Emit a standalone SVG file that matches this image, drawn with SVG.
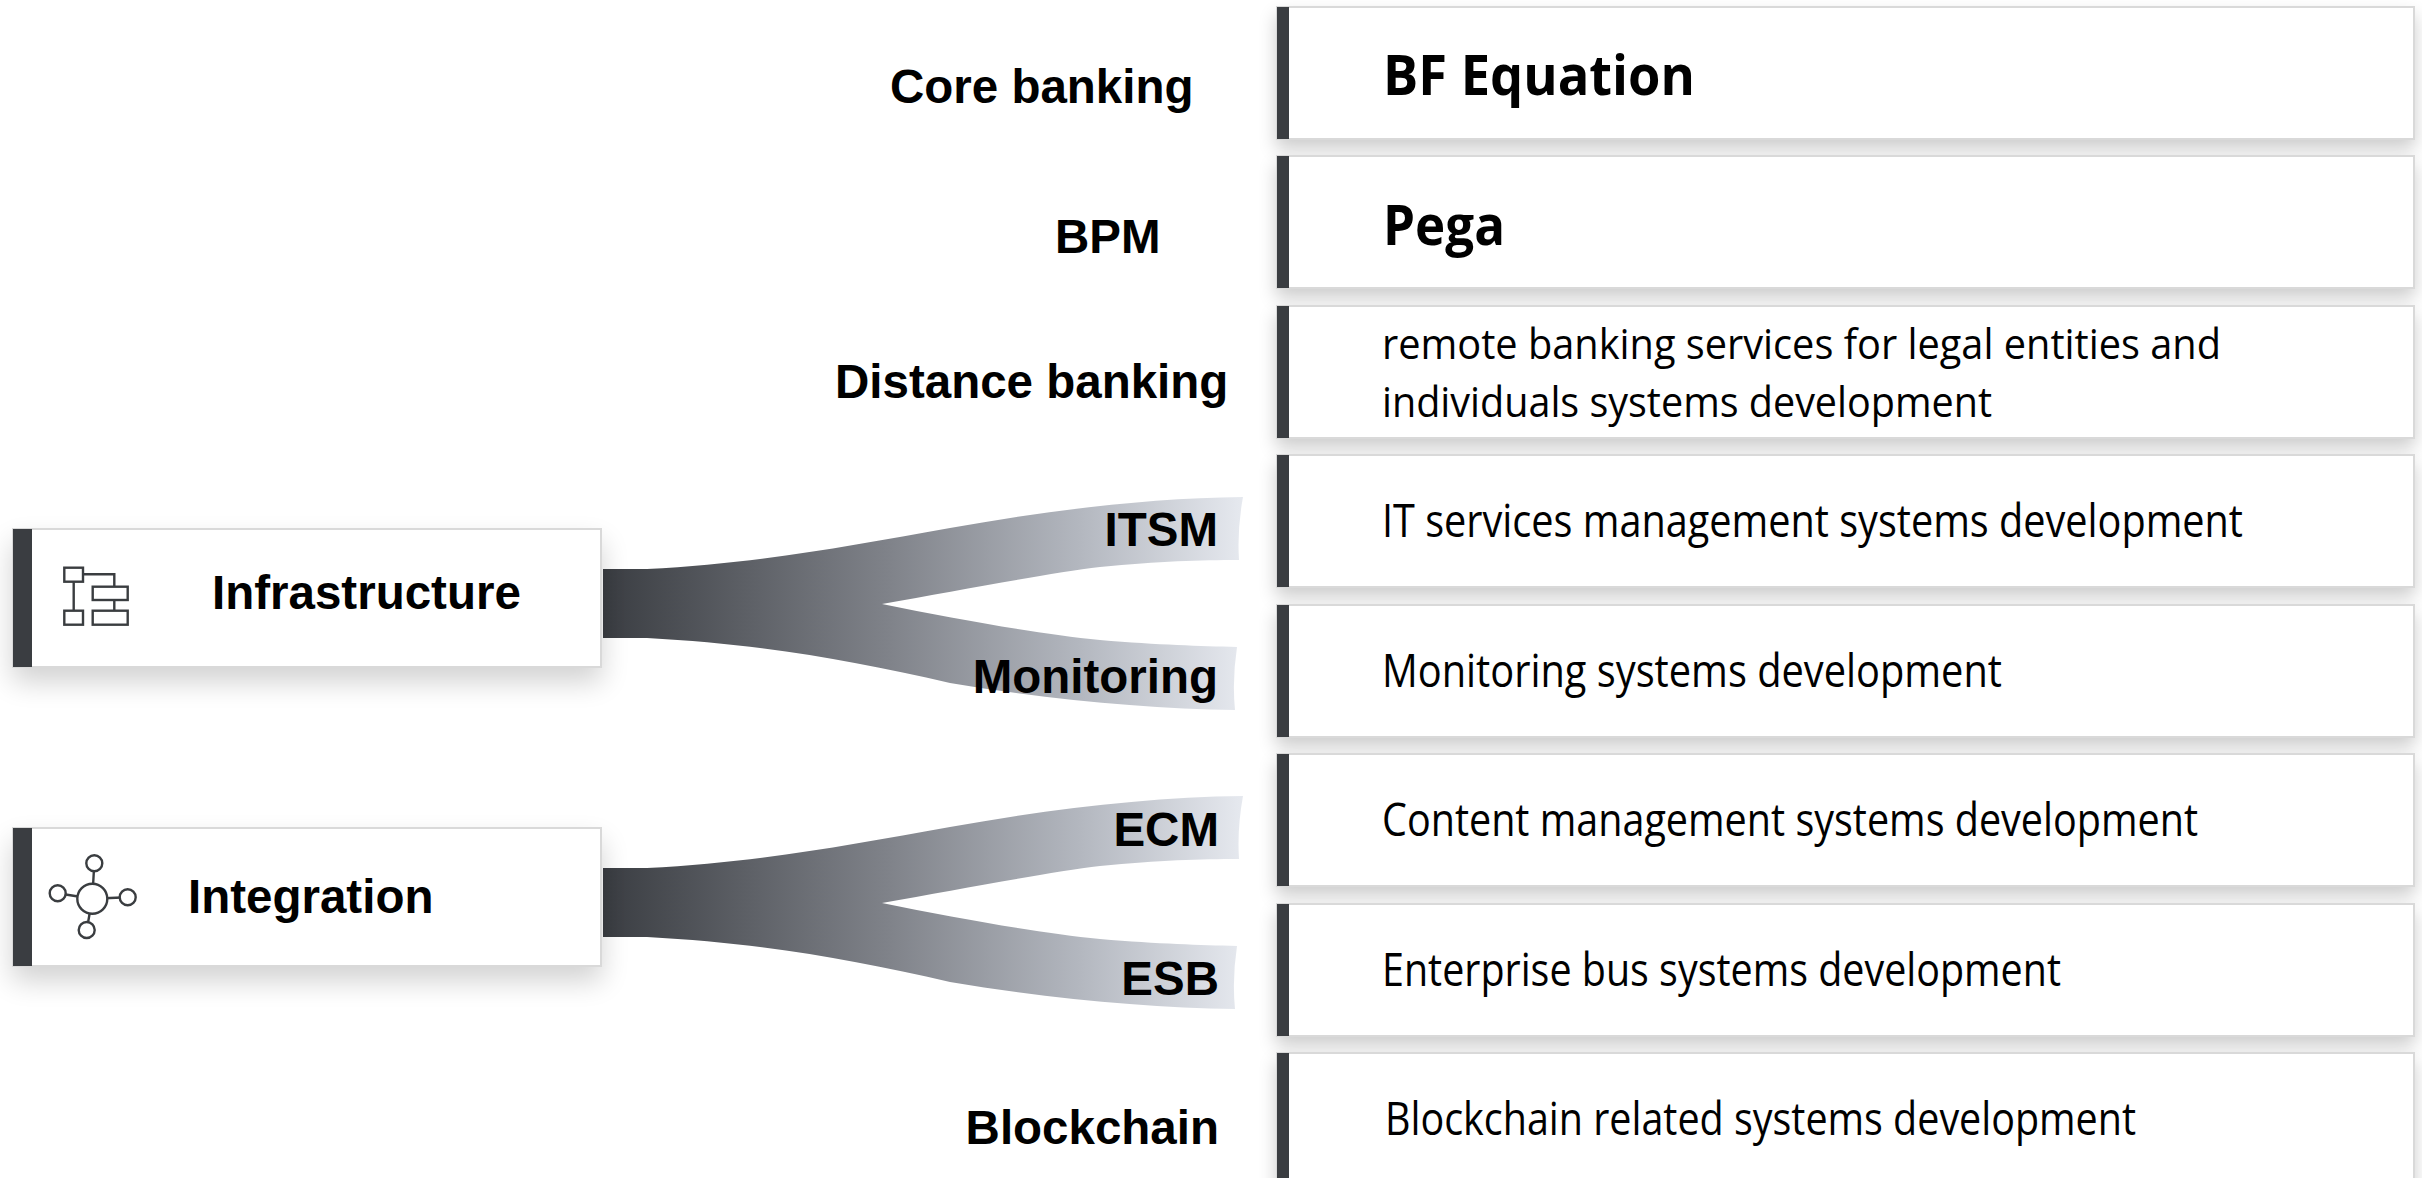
<svg xmlns="http://www.w3.org/2000/svg" width="2422" height="1178" viewBox="0 0 2422 1178">
<defs>
<style>
.box{fill:#ffffff;stroke:#d9d9d9;stroke-width:2}
.bar{fill:#3a3d41}
.lbl{font-family:"Liberation Sans",Arial,sans-serif;font-weight:bold;font-size:47.5px;fill:#000}
.head{font-family:"Open Sans","DejaVu Sans",sans-serif;font-weight:bold;font-size:55px;fill:#000}
.body{font-family:"Open Sans","DejaVu Sans",sans-serif;font-size:45px;fill:#000}
.body2{font-family:"Open Sans","DejaVu Sans",sans-serif;font-size:41.5px;fill:#000}
.ico{fill:#ffffff;stroke:#3a3d40;stroke-width:2.4}
.icl{fill:none;stroke:#3a3d40;stroke-width:2.4}
</style>
<filter id="sh" x="-10%" y="-40%" width="120%" height="190%">
<feGaussianBlur in="SourceAlpha" stdDeviation="9"/>
<feOffset dy="9" result="o"/>
<feComponentTransfer><feFuncA type="linear" slope="0.2"/></feComponentTransfer>
<feMerge><feMergeNode/><feMergeNode in="SourceGraphic"/></feMerge>
</filter>
<filter id="sh2" x="-15%" y="-50%" width="130%" height="220%">
<feGaussianBlur in="SourceAlpha" stdDeviation="14"/>
<feOffset dy="14" result="o"/>
<feComponentTransfer><feFuncA type="linear" slope="0.18"/></feComponentTransfer>
<feMerge><feMergeNode/><feMergeNode in="SourceGraphic"/></feMerge>
</filter>
<linearGradient id="rib" gradientUnits="userSpaceOnUse" x1="603" y1="0" x2="1243" y2="0">
<stop offset="0" stop-color="#3a3d42"/>
<stop offset="0.45" stop-color="#80838a"/>
<stop offset="0.75" stop-color="#b4b8c0"/>
<stop offset="1" stop-color="#e6e9ef"/>
</linearGradient>
<path id="ribbon" d="M603,569 L647,569 C760,563 850,546 950,528 C1050,510 1150,498 1243,497 Q1237,530 1239,560 C1200,560 1160,561 1100,567 C1050,573 960,590 882,604 C960,620 1040,634 1100,640 C1160,645 1200,646 1237,647 Q1232,680 1235,710 C1150,709 1050,700 950,683 C850,660 760,644 647,638 L603,638 Z"/>
</defs>
<rect x="0" y="0" width="2422" height="1178" fill="#ffffff"/>

<g id="connectors">
<use href="#ribbon" fill="url(#rib)"/>
<use href="#ribbon" fill="url(#rib)" transform="translate(0,299)"/>
</g>

<g id="infrastructure">
<rect class="box" x="13" y="529" width="588" height="138" filter="url(#sh2)"/>
<rect class="bar" x="13" y="529" width="19" height="138"/>
<path class="icl" d="M83,574.3 H114.3 V586.7 M114.3,600 V610.7 M73.7,581.7 V610.7"/>
<rect class="ico" x="64.3" y="567.7" width="18.7" height="14"/>
<rect class="ico" x="92.7" y="586.7" width="35" height="13.3"/>
<rect class="ico" x="92.7" y="610.7" width="35" height="14"/>
<rect class="ico" x="64.3" y="610.7" width="18.7" height="14"/>
<text class="lbl" x="212" y="609">Infrastructure</text>
</g>

<g id="integration">
<rect class="box" x="13" y="828" width="588" height="138" filter="url(#sh2)"/>
<rect class="bar" x="13" y="828" width="19" height="138"/>
<path class="icl" d="M92.3,898.7 L94.3,863.3 M92.3,898.7 L57.7,893.3 M92.3,898.7 L127.7,897.3 M92.3,898.7 L86.7,930"/>
<circle class="ico" cx="92.3" cy="898.7" r="15"/>
<circle class="ico" cx="94.3" cy="863.3" r="8"/>
<circle class="ico" cx="57.7" cy="893.3" r="8"/>
<circle class="ico" cx="127.7" cy="897.3" r="8"/>
<circle class="ico" cx="86.7" cy="930" r="8"/>
<text class="lbl" x="188" y="913">Integration</text>
</g>

<g id="core-banking">
<rect class="box" x="1277" y="7" width="1137" height="132" filter="url(#sh)"/>
<rect class="bar" x="1277" y="7" width="12" height="132"/>
<text class="lbl" x="890" y="103">Core banking</text>
<text class="head" x="1383" y="95" textLength="312" lengthAdjust="spacingAndGlyphs">BF Equation</text>
</g>

<g id="bpm">
<rect class="box" x="1277" y="156" width="1137" height="132" filter="url(#sh)"/>
<rect class="bar" x="1277" y="156" width="12" height="132"/>
<text class="lbl" x="1055" y="253">BPM</text>
<text class="head" x="1383" y="245" textLength="122" lengthAdjust="spacingAndGlyphs">Pega</text>
</g>

<g id="distance-banking">
<rect class="box" x="1277" y="306" width="1137" height="132" filter="url(#sh)"/>
<rect class="bar" x="1277" y="306" width="12" height="132"/>
<text class="lbl" x="835" y="398">Distance banking</text>
<text class="body2" x="1382" y="359" textLength="839" lengthAdjust="spacingAndGlyphs">remote banking services for legal entities and</text>
<text class="body2" x="1382" y="417" textLength="610" lengthAdjust="spacingAndGlyphs">individuals systems development</text>
</g>

<g id="itsm">
<rect class="box" x="1277" y="455" width="1137" height="132" filter="url(#sh)"/>
<rect class="bar" x="1277" y="455" width="12" height="132"/>
<text class="lbl" x="1218" y="546" text-anchor="end">ITSM</text>
<text class="body" x="1382" y="537" textLength="861" lengthAdjust="spacingAndGlyphs">IT services management systems development</text>
</g>

<g id="monitoring">
<rect class="box" x="1277" y="605" width="1137" height="132" filter="url(#sh)"/>
<rect class="bar" x="1277" y="605" width="12" height="132"/>
<text class="lbl" x="1218" y="693" text-anchor="end">Monitoring</text>
<text class="body" x="1382" y="687" textLength="620" lengthAdjust="spacingAndGlyphs">Monitoring systems development</text>
</g>

<g id="ecm">
<rect class="box" x="1277" y="754" width="1137" height="132" filter="url(#sh)"/>
<rect class="bar" x="1277" y="754" width="12" height="132"/>
<text class="lbl" x="1219" y="846" text-anchor="end">ECM</text>
<text class="body" x="1382" y="836" textLength="816" lengthAdjust="spacingAndGlyphs">Content management systems development</text>
</g>

<g id="esb">
<rect class="box" x="1277" y="904" width="1137" height="132" filter="url(#sh)"/>
<rect class="bar" x="1277" y="904" width="12" height="132"/>
<text class="lbl" x="1219" y="995" text-anchor="end">ESB</text>
<text class="body" x="1382" y="986" textLength="679" lengthAdjust="spacingAndGlyphs">Enterprise bus systems development</text>
</g>

<g id="blockchain">
<rect class="box" x="1277" y="1053" width="1137" height="140" filter="url(#sh)"/>
<rect class="bar" x="1277" y="1053" width="12" height="140"/>
<text class="lbl" x="1219" y="1144" text-anchor="end">Blockchain</text>
<text class="body" x="1385" y="1135" textLength="751" lengthAdjust="spacingAndGlyphs">Blockchain related systems development</text>
</g>
</svg>
